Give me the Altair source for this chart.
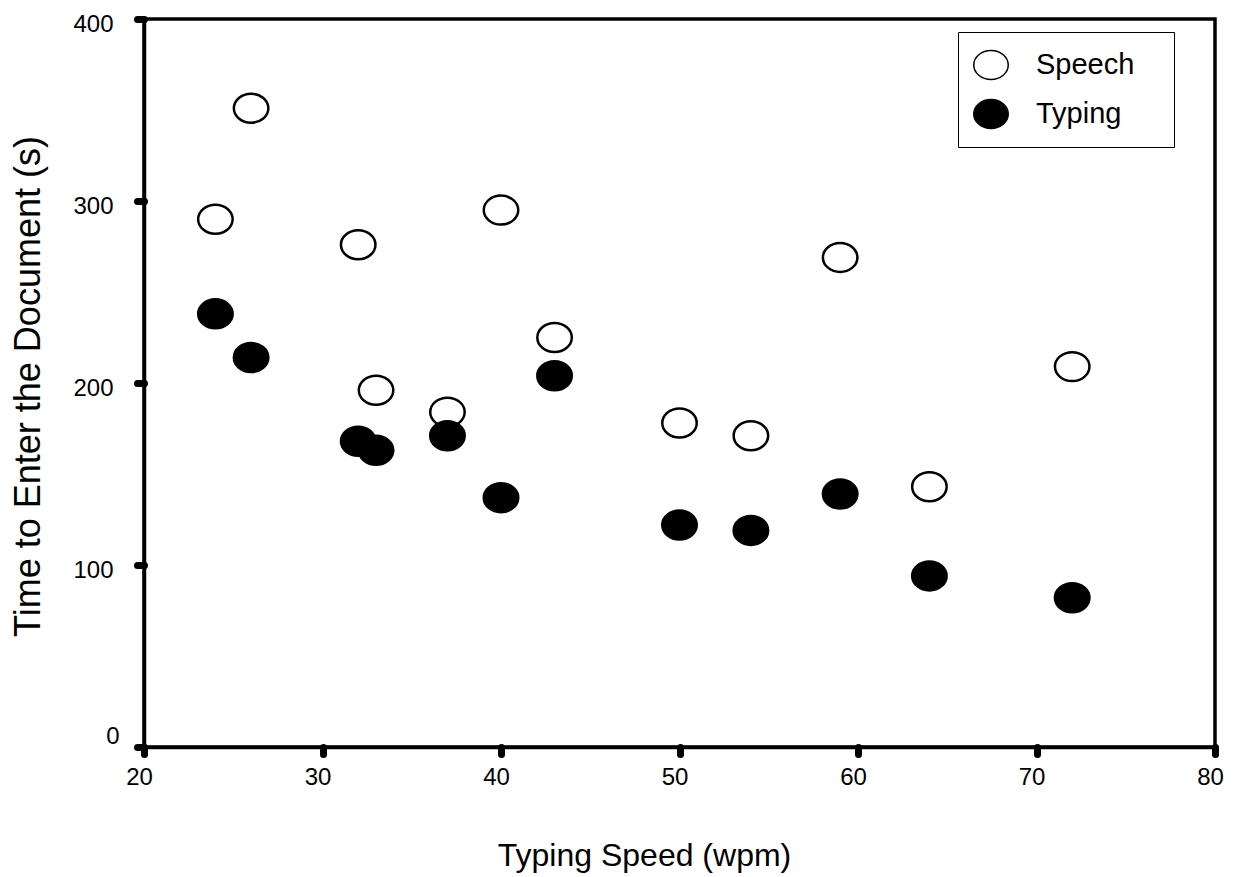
import altair as alt
import pandas as pd

# ---- data ----
speed = [24, 26, 32, 33, 37, 40, 43, 50, 54, 59, 64, 72]
speech_time = [290, 351, 276, 196, 184, 295, 225, 178, 171, 269, 143, 209]
typing_time = [238, 214, 168, 163, 171, 137, 204, 122, 119, 139, 94, 82]
series = ["Speech", "Typing"]
series_fill = ["white", "black"]
x_ticks = [20, 30, 40, 50, 60, 70, 80]
y_ticks = [0, 100, 200, 300, 400]

rows = []
for name, vals in zip(series, [speech_time, typing_time]):
    for x, v in zip(speed, vals):
        rows.append({"speed": x, "time": v, "method": name})
df = pd.DataFrame(rows)

ELLIPSE = "M -1 0 A 1 0.84 0 1 1 1 0 A 1 0.84 0 1 1 -1 0 Z"
FONT = "Liberation Sans"

x_axis = alt.Axis(
    values=x_ticks, format="d", title="Typing Speed (wpm)", grid=False,
    tickSize=7, tickWidth=7, tickCap="round", tickColor="black",
    domainWidth=3.5, domainColor="black",
    labelFont=FONT, labelFontSize=24, labelColor="black",
    labelPadding=11, labelOffset=-5, labelFlush=False,
    titleFont=FONT, titleFontSize=32, titleFontWeight="normal", titleColor="black",
    titleX=500, titleY=118, titleAlign="center", titleBaseline="alphabetic",
)

y_axis = alt.Axis(
    values=y_ticks, format="d", title="Time to Enter the Document (s)", grid=False,
    tickSize=7, tickWidth=7, tickCap="round", tickColor="black",
    domainWidth=3.5, domainColor="black",
    labelFont=FONT, labelFontSize=24, labelColor="black",
    labelPadding={"condition": {"test": "datum.value === 0", "value": 18}, "value": 24},
    labelOffset={"condition": {"test": "datum.value === 0", "value": -11}, "value": 5},
    labelFlush=False,
    titleFont=FONT, titleFontSize=36, titleFontWeight="normal", titleColor="black",
    titleX=-105, titleY=367, titleAlign="center", titleBaseline="alphabetic", titleAngle=270,
)

legend = alt.Legend(
    title=None, orient="none", legendX=814, legendY=13,
    padding=15, strokeColor="black", fillColor="white", cornerRadius=0,
    symbolType=ELLIPSE, symbolSize=1190, symbolStrokeColor="black",
    symbolStrokeWidth=1.5, symbolOpacity=1,
    labelFont=FONT, labelFontSize=29, labelColor="black", labelOffset=27,
    rowPadding=13, labelExpr="datum.label + '\u00a0\u00a0\u00a0\u200b'",
)

chart = (
    alt.Chart(df)
    .mark_point(shape=ELLIPSE, size=1190, filled=True, stroke="black",
                strokeWidth=2.5, opacity=1)
    .encode(
        x=alt.X("speed:Q", scale=alt.Scale(domain=[20, 80], nice=False, zero=False), axis=x_axis),
        y=alt.Y("time:Q", scale=alt.Scale(domain=[0, 400], nice=False), axis=y_axis),
        fill=alt.Fill("method:N", scale=alt.Scale(domain=series, range=series_fill), legend=legend),
    )
    .properties(
        width=1071, height=728,
        autosize=alt.AutoSizeParams(type="none"),
        padding={"left": 136, "top": 11, "right": 14, "bottom": 128},
        background="white",
    )
    .configure_view(stroke="black", strokeWidth=3.5)
)

chart.save("out.html", embed_options={"renderer": "svg", "actions": False})
